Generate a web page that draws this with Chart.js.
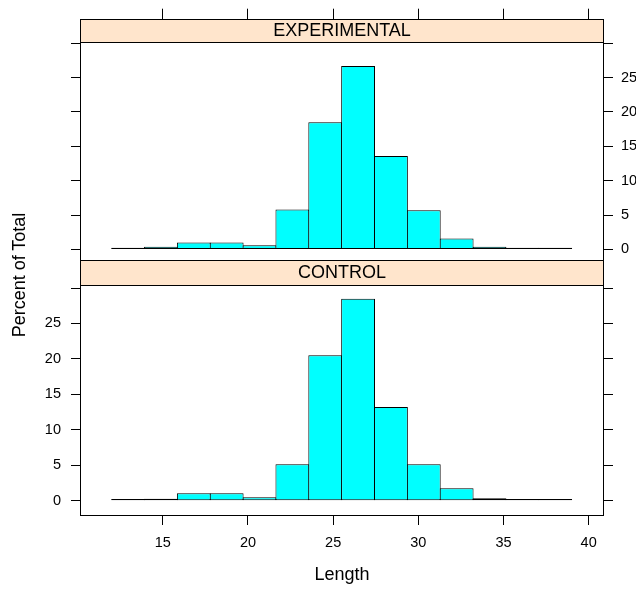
<!DOCTYPE html>
<html>
<head>
<meta charset="utf-8">
<title>Length by group</title>
<script src="https://cdn.jsdelivr.net/npm/chart.js@4.4.1/dist/chart.umd.min.js"></script>
<style>
  html, body { margin: 0; padding: 0; background: #fff; }
  #wrap { position: relative; width: 636px; height: 589px; overflow: hidden; }
  #wrap canvas { position: absolute; left: 0; top: 0; }
  #ylab {
    position: absolute; left: -81px; top: 265px; width: 200px; height: 20px; line-height: 20px;
    text-align: center; font: 18px 'Liberation Sans', Arial, sans-serif; color: #000;
    transform: rotate(-90deg);
  }
</style>
</head>
<body>
<div id="wrap">
  <canvas id="expChart" width="636" height="589"></canvas>
  <canvas id="ctlChart" width="636" height="589"></canvas>
  <div id="ylab">Percent of Total</div>
</div>
<script>
  // ---- Data ------------------------------------------------
  const BIN_EDGES = [12.000, 13.929, 15.857, 17.786, 19.714, 21.643, 23.571, 25.500,
                     27.429, 29.357, 31.286, 33.214, 35.143, 37.071, 39.000];
  const EXPERIMENTAL = [0.25, 0.37, 1.0, 1.0, 0.6, 5.82, 18.5, 26.7, 13.6, 5.68, 1.6, 0.37, 0.25, 0.25];
  const CONTROL      = [0.25, 0.28, 1.04, 1.04, 0.48, 5.13, 20.5, 28.5, 13.2, 5.13, 1.75, 0.34, 0.25, 0.25];
  const X_TICKS = [15, 20, 25, 30, 35, 40];
  const Y_TICKS = [0, 5, 10, 15, 20, 25, 30];
  const Y_LABELS = ['0', '5', '10', '15', '20', '25', ''];

  const FONT = "'Liberation Sans', Arial, sans-serif";
  Chart.defaults.font.family = FONT;
  Chart.defaults.color = '#000';

  function binPoints(values) {
    return values.map((v, i) => ({ x: (BIN_EDGES[i] + BIN_EDGES[i + 1]) / 2, y: v }));
  }

  // strip with the group name + panel box
  const panelStrip = {
    id: 'panelStrip',
    afterDatasetsDraw(chart, args, opts) {
      const { ctx, chartArea: a } = chart;
      const left = Math.round(a.left) + 0.5;
      const right = Math.round(a.right) - 0.5;
      const top = Math.round(a.top) + 0.5;
      const bottom = Math.round(a.bottom) - 0.5;
      ctx.save();
      ctx.fillStyle = '#ffe5cc';
      ctx.fillRect(left, top, right - left, opts.height);
      ctx.strokeStyle = '#000';
      ctx.lineWidth = 1;
      ctx.beginPath();
      ctx.moveTo(left, top + opts.height);
      ctx.lineTo(right, top + opts.height);
      ctx.stroke();
      ctx.strokeRect(left, top, right - left, bottom - top);
      ctx.fillStyle = '#000';
      ctx.font = '18px ' + FONT;
      ctx.textAlign = 'center';
      ctx.textBaseline = 'middle';
      ctx.fillText(chart.data.datasets[0].label, (left + right) / 2, top + opts.height / 2 + 0.5);
      ctx.restore();
    },
  };

  // labelled axes need a real box width, labels are clipped to it
  function yAxis(position, labelled, min, max, width) {
    return {
      type: 'linear',
      position,
      min,
      max,
      afterBuildTicks: (s) => { s.ticks = Y_TICKS.map((v) => ({ value: v })); },
      afterFit: (s) => { s.width = width; },
      grid: { drawOnChartArea: false, drawTicks: true, tickLength: 9, color: '#000', lineWidth: 1 },
      border: { display: false },
      ticks: {
        autoSkip: false,
        padding: position === 'left' ? 10 : 8,
        font: { size: 14.5 },
        callback: (v, i) => (labelled ? Y_LABELS[i] : ''),
      },
    };
  }

  function xAxis(position, labelled, height) {
    return {
      type: 'linear',
      position,
      min: 10.14,
      max: 40.9,
      offset: false,
      afterBuildTicks: (s) => { s.ticks = X_TICKS.map((v) => ({ value: v })); },
      afterFit: (s) => { s.height = height; },
      grid: {
        offset: false, drawOnChartArea: false, drawTicks: true,
        tickLength: labelled ? 9 : 10, color: '#000', lineWidth: 1,
      },
      border: { display: false },
      ticks: {
        autoSkip: false,
        maxRotation: 0,
        padding: 9,
        font: { size: 14.5 },
        callback: (v) => (labelled ? String(v) : ''),
      },
      title: {
        display: labelled,
        text: 'Length',
        font: { size: 18 },
        padding: 0,
      },
    };
  }

  function makePanel(canvasId, label, values, cfg) {
    const mirrorPos = cfg.yPos === 'left' ? 'right' : 'left';
    return new Chart(document.getElementById(canvasId), {
      type: 'bar',
      data: {
        datasets: [{
          label,
          data: binPoints(values),
          xAxisID: 'x',
          yAxisID: 'y',
          backgroundColor: '#00ffff',
          borderColor: '#000',
          borderWidth: 1,
          borderSkipped: false,
          inflateAmount: 0,
          barPercentage: 1.03,
          categoryPercentage: 1,
        }],
      },
      options: {
        responsive: false,
        devicePixelRatio: 1,
        animation: false,
        layout: { padding: cfg.padding },
        scales: {
          x: xAxis(cfg.xPos, cfg.xLabels, cfg.xHeight),
          y: yAxis(cfg.yPos, true, cfg.yMin, cfg.yMax, cfg.yWidth),
          yMirror: yAxis(mirrorPos, false, cfg.yMin, cfg.yMax, 0),
        },
        plugins: {
          legend: { display: false },
          tooltip: { enabled: false },
          panelStrip: { height: cfg.stripHeight },
        },
      },
      plugins: [panelStrip],
    });
  }

  makePanel('expChart', 'EXPERIMENTAL', EXPERIMENTAL, {
    padding: { left: 80, right: 0, top: 10, bottom: 328 },
    xPos: 'top', xLabels: false, xHeight: 0,
    yPos: 'right', yWidth: 32, yMin: -1.69, yMax: 33.57,
    stripHeight: 23,
  });

  makePanel('ctlChart', 'CONTROL', CONTROL, {
    padding: { left: 0, right: 32, top: 260, bottom: 3 },
    xPos: 'bottom', xLabels: true, xHeight: 70,
    yPos: 'left', yWidth: 80, yMin: -2.16, yMax: 33.95,
    stripHeight: 25,
  });
</script>
</body>
</html>
